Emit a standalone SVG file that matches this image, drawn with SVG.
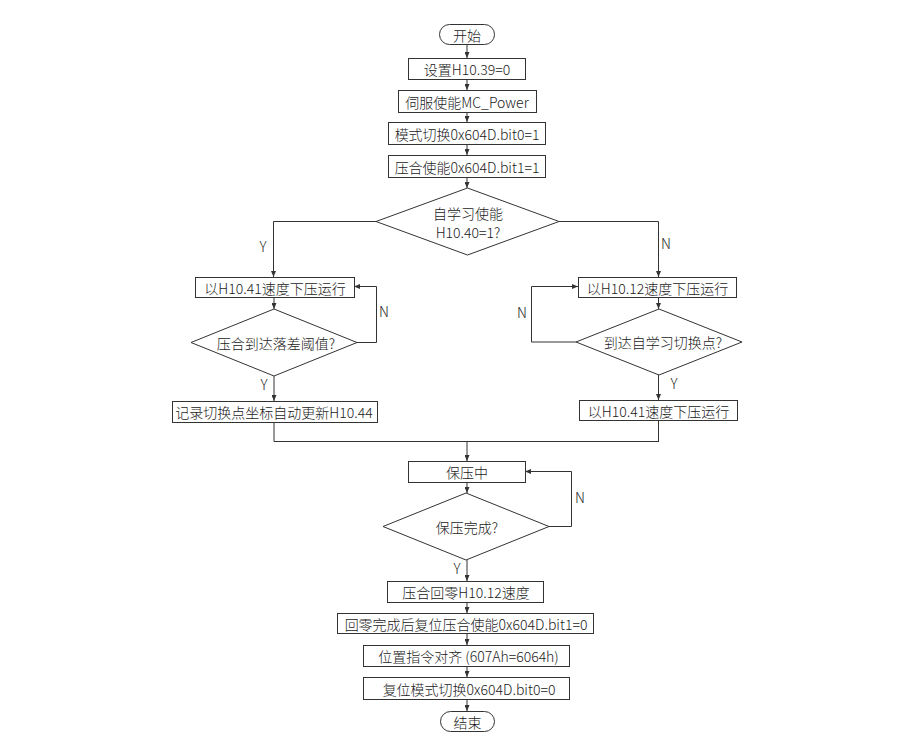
<svg xmlns="http://www.w3.org/2000/svg" width="917" height="752" viewBox="0 0 917 752">
<style>
.n{fill:#fff;stroke:#333;stroke-width:1}
.t{font-family:"Noto Sans CJK SC","Noto Sans",sans-serif;font-size:14px;font-weight:300;fill:#1a1a1a;text-anchor:middle;dominant-baseline:central}
.c{fill:none;stroke:#333;stroke-width:1}
.l{font-family:"Noto Sans CJK SC","Noto Sans",sans-serif;font-size:14px;font-weight:300;fill:#1a1a1a;text-anchor:middle;dominant-baseline:central}
</style>
<defs>
<marker id="a" markerUnits="userSpaceOnUse" markerWidth="6" markerHeight="5" refX="6" refY="2.5" orient="auto" viewBox="0 0 6 5">
<path d="M0,0 L6,2.5 L0,5 z" fill="#333"/>
</marker>
</defs>
<rect width="917" height="752" fill="#fff"/>
<g id="connectors">
<path class="c" marker-end="url(#a)" d="M467,44 V58"/>
<path class="c" marker-end="url(#a)" d="M467,79 V90"/>
<path class="c" marker-end="url(#a)" d="M467,112 V122"/>
<path class="c" marker-end="url(#a)" d="M467,144 V155"/>
<path class="c" marker-end="url(#a)" d="M467,177 V188"/>
<path class="c" marker-end="url(#a)" d="M376,221.5 H273.5 V277"/>
<path class="c" marker-end="url(#a)" d="M559,221.5 H658.5 V277"/>
<path class="c" marker-end="url(#a)" d="M274,297 V309"/>
<path class="c" marker-end="url(#a)" d="M357,342.5 H376.5 V286.5 H354"/>
<path class="c" marker-end="url(#a)" d="M274,376 V401"/>
<path class="c" d="M274,422 V441.5 H659"/>
<path class="c" marker-end="url(#a)" d="M658.5,297 V309"/>
<path class="c" marker-end="url(#a)" d="M576,342 H531.5 V286.5 H578"/>
<path class="c" marker-end="url(#a)" d="M658.5,375 V400"/>
<path class="c" d="M658.5,420 V441.5"/>
<path class="c" marker-end="url(#a)" d="M467,441.5 V461"/>
<path class="c" marker-end="url(#a)" d="M467,482 V493"/>
<path class="c" marker-end="url(#a)" d="M549,526.5 H571.5 V471.5 H525"/>
<path class="c" marker-end="url(#a)" d="M467,560 V581"/>
<path class="c" marker-end="url(#a)" d="M467,602 V613"/>
<path class="c" marker-end="url(#a)" d="M467,633 V645"/>
<path class="c" marker-end="url(#a)" d="M467,666 V677"/>
<path class="c" marker-end="url(#a)" d="M467,699 V711"/>
<text class="l" x="263" y="246">Y</text>
<text class="l" x="666" y="243">N</text>
<text class="l" x="384" y="311">N</text>
<text class="l" x="264" y="384">Y</text>
<text class="l" x="522" y="312">N</text>
<text class="l" x="674" y="383">Y</text>
<text class="l" x="580" y="497">N</text>
<text class="l" x="457" y="568">Y</text>
</g>
<g id="start"><rect class="n" x="439.5" y="24.5" width="55" height="20" rx="10"/><text class="t" x="467" y="34.5">开始</text></g>
<g id="b1"><rect class="n" x="408.5" y="58.5" width="117" height="21"/><text class="t" x="467" y="69">设置H10.39=0</text></g>
<g id="b2"><rect class="n" x="398.5" y="90.5" width="138" height="22"/><text class="t" x="467" y="101.5">伺服使能MC_Power</text></g>
<g id="b3"><rect class="n" x="388.5" y="122.5" width="157" height="22"/><text class="t" x="467" y="133.5">模式切换0x604D.bit0=1</text></g>
<g id="b4"><rect class="n" x="388.5" y="155.5" width="157" height="22"/><text class="t" x="467" y="166.5">压合使能0x604D.bit1=1</text></g>
<g id="d1"><polygon class="n" points="467.5,188 559,221.5 467.5,255 376,221.5"/><text class="t" x="468" y="213">自学习使能</text><text class="t" x="468" y="231.5">H10.40=1?</text></g>
<g id="l1"><rect class="n" x="195.5" y="277.5" width="159" height="20"/><text class="t" x="275" y="287.5">以H10.41速度下压运行</text></g>
<g id="ld"><polygon class="n" points="274,309 357,342.5 274,376 191,342.5"/><text class="t" x="276" y="342.5">压合到达落差阈值?</text></g>
<g id="l2"><rect class="n" x="172.5" y="401.5" width="205" height="21"/><text class="t" x="274" y="412">记录切换点坐标自动更新H10.44</text></g>
<g id="r1"><rect class="n" x="578.5" y="277.5" width="158" height="20"/><text class="t" x="657.5" y="287.5">以H10.12速度下压运行</text></g>
<g id="rd"><polygon class="n" points="659,309 742,342 659,375 576,342"/><text class="t" x="663" y="342">到达自学习切换点?</text></g>
<g id="r2"><rect class="n" x="579.5" y="400.5" width="158" height="20"/><text class="t" x="658.5" y="410.5">以H10.41速度下压运行</text></g>
<g id="hold"><rect class="n" x="408.5" y="461.5" width="117" height="21"/><text class="t" x="467" y="472">保压中</text></g>
<g id="hd"><polygon class="n" points="466,493 549,526.5 466,560 383,526.5"/><text class="t" x="467" y="526.5">保压完成?</text></g>
<g id="b5"><rect class="n" x="387.5" y="581.5" width="156" height="21"/><text class="t" x="466" y="592">压合回零H10.12速度</text></g>
<g id="b6"><rect class="n" x="337.5" y="613.5" width="256" height="20"/><text class="t" x="466" y="623.5">回零完成后复位压合使能0x604D.bit1=0</text></g>
<g id="b7"><rect class="n" x="363.5" y="645.5" width="206" height="21"/><text class="t" x="468.5" y="656">位置指令对齐 (607Ah=6064h)</text></g>
<g id="b8"><rect class="n" x="363.5" y="677.5" width="206" height="22"/><text class="t" x="469" y="688.5">复位模式切换0x604D.bit0=0</text></g>
<g id="end"><rect class="n" x="440.5" y="711.5" width="54" height="20" rx="10"/><text class="t" x="467.5" y="721.5">结束</text></g>
</svg>
